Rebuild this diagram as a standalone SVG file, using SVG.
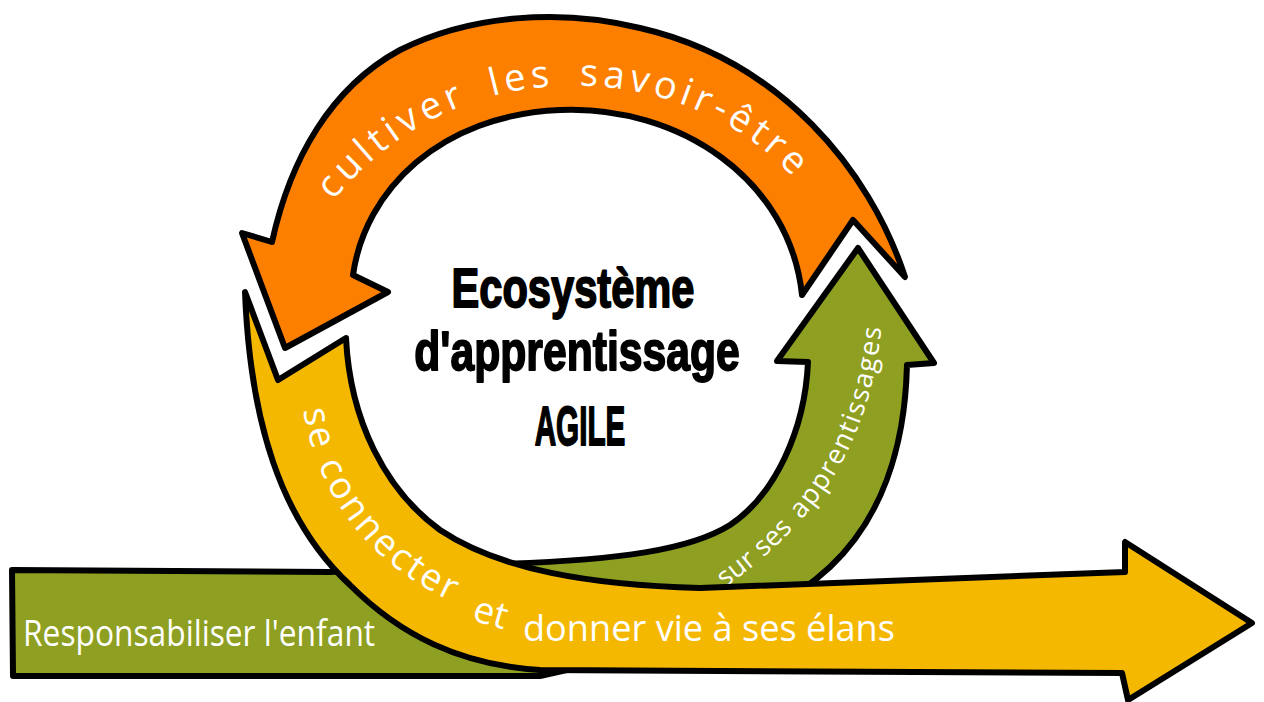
<svg xmlns="http://www.w3.org/2000/svg" xmlns:xlink="http://www.w3.org/1999/xlink" width="1264" height="702" viewBox="0 0 1264 702">
  <style>
    .shape { stroke: #000; stroke-width: 6; stroke-linejoin: round; stroke-linecap: round; }
    .green { fill: #8E9F21; }
    .yellow { fill: #F5B800; }
    .orange { fill: #FD7F00; }
    .hand { fill: #fff; font-family: "Open Sans", "Noto Sans", "DejaVu Sans", sans-serif; font-weight: 400; }
    .title { fill: #000; stroke: #000; stroke-width: 1.8; stroke-linejoin: round; font-family: "Liberation Sans", Arial, sans-serif; font-weight: 700; font-size: 55px; text-anchor: middle; }
  </style>
  <defs>
    <path id="p-orange" d="M 325,212 C 370,150 450,90 560,86 C 650,82 740,115 800,185"/>
    <path id="p-yellow" d="M 302,402 C 314,490 366,566 462,606"/>
    <path id="p-green" d="M 722,590 C 790,540 870,470 882,320"/>
  </defs>
  <rect width="1264" height="702" fill="#fff"/>
  <g id="connectors">
    <g id="arrow-green">
      <path class="shape green" d="M 12,570 L 330,572 L 500,564 C 620,560 690,550 730,525 C 775,495 805,430 808,362 L 777,361 L 858,248 L 934,363 L 907,365 C 905,450 880,520 830,567 C 800,595 760,620 700,640 L 540,676 L 13,676 Z"/>
      <text class="hand" font-size="36" transform="translate(23,646) scale(0.876,1)" textLength="402" lengthAdjust="spacingAndGlyphs">Responsabiliser l'enfant</text>
      <text class="hand" font-size="27"><textPath href="#p-green" xlink:href="#p-green" startOffset="4" textLength="90" lengthAdjust="spacing">sur ses</textPath></text>
      <text class="hand" font-size="27"><textPath href="#p-green" xlink:href="#p-green" startOffset="106" textLength="212" lengthAdjust="spacing">apprentissages</textPath></text>
    </g>
    <g id="arrow-yellow">
      <path class="shape yellow" d="M 245,292 C 250,420 280,520 350,585 C 400,635 460,665 540,670 L 1122,673 L 1128,700 L 1252,623 L 1125,542 L 1125,572 L 700,588 C 590,585 500,570 440,530 C 385,490 350,420 346,338 L 278,380 Z"/>
      <text class="hand" font-size="37"><textPath href="#p-yellow" xlink:href="#p-yellow" startOffset="8" textLength="252" lengthAdjust="spacing">se connecter</textPath></text>
      <text class="hand" font-size="37" transform="translate(471,620) rotate(16)">et</text>
      <text class="hand" font-size="37" x="523" y="641" textLength="372" lengthAdjust="spacingAndGlyphs">donner vie à ses élans</text>
    </g>
    <g id="arrow-orange">
      <path class="shape orange" d="M 905,277 C 870,170 780,60 640,28 C 560,8 470,15 400,50 C 330,88 290,160 272,242 L 242,233 L 285,348 L 388,292 L 353,275 C 365,190 440,115 560,110 C 680,105 790,180 802,295 L 853,220 Z"/>
      <text class="hand" font-size="38" word-spacing="10"><textPath href="#p-orange" xlink:href="#p-orange" startOffset="14" textLength="520" lengthAdjust="spacing">cultiver les savoir-être</textPath></text>
    </g>
  </g>
  <g id="center">
    <text class="title" transform="translate(573,307) scale(0.757,1)" textLength="321" lengthAdjust="spacingAndGlyphs">Ecosystème</text>
    <text class="title" transform="translate(577,370) scale(0.775,1)" textLength="420" lengthAdjust="spacingAndGlyphs">d'apprentissage</text>
    <text class="title" transform="translate(580,445) scale(0.54,1)" textLength="168" lengthAdjust="spacingAndGlyphs">AGILE</text>
  </g>
</svg>
